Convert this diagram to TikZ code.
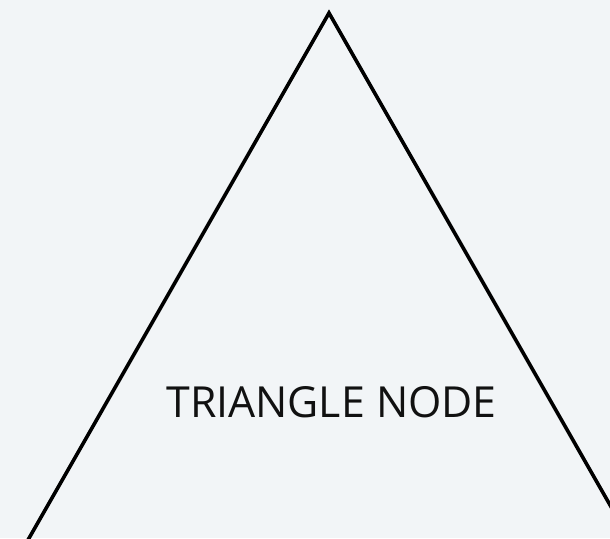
\documentclass[tikz,border=0pt]{standalone}
\usepackage{fontspec}
\setmainfont{Open Sans}
\definecolor{bg}{HTML}{F2F5F7}
\definecolor{ink}{HTML}{111111}
\begin{document}
\begin{tikzpicture}[x=1pt,y=1pt,
  tri/.style={draw=black,line width=3.6pt,line join=miter},
  lbl/.style={font=\fontsize{42.8}{50}\selectfont,text=ink,inner sep=0pt,anchor=base}]
\fill[bg] (0,0) rectangle (610,538);
\useasboundingbox (0,0) rectangle (610,538);
\begin{scope}
\clip (0,0) rectangle (610,538);
\coordinate (apex) at (329,525);
\coordinate (bl) at (20,-16);
\coordinate (br) at (638,-16);
\draw[tri] (bl) -- (apex) -- (br);
\end{scope}
\node[lbl] (t) at (331.5,120) {TRIANGLE NODE};
\end{tikzpicture}
\end{document}
